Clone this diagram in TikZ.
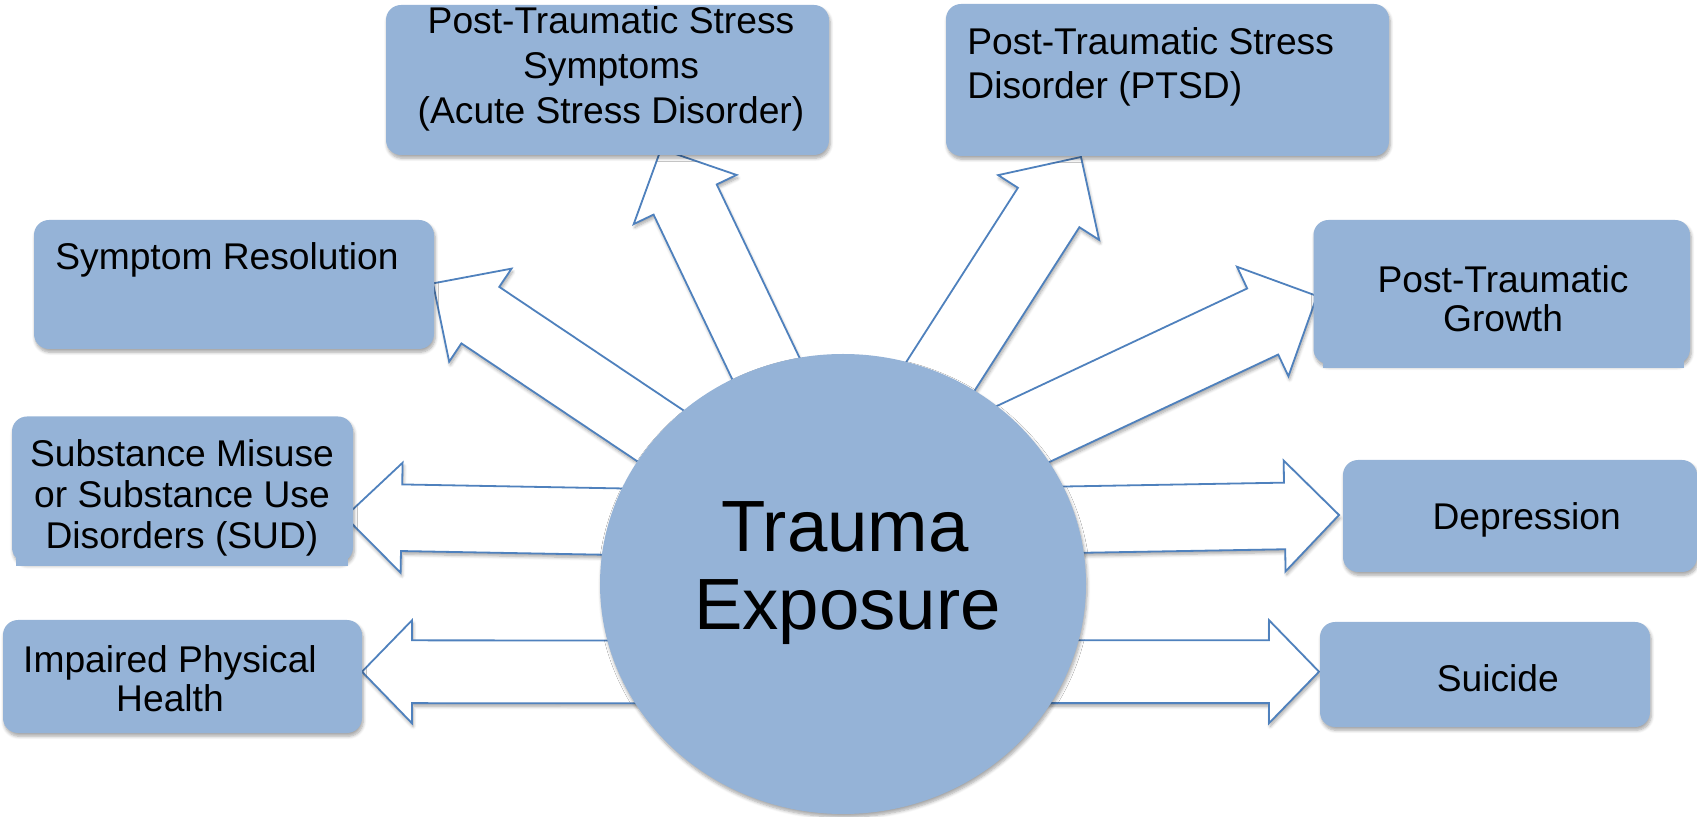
\documentclass[tikz,border=0pt]{standalone}
\usepackage{fontspec}
\setmainfont{Liberation Sans}
\usetikzlibrary{calc,shapes.geometric,shadows.blur}
\definecolor{boxblue}{HTML}{95B3D7}
\definecolor{arrowline}{HTML}{4F81BD}
\tikzset{
  softshadow/.style={blur shadow={shadow xshift=0.6pt, shadow yshift=-1.6pt, shadow blur radius=1.6pt, shadow blur steps=6, shadow opacity=35}},
  boxsty/.style={rectangle, rounded corners=7.5pt, fill=boxblue, draw=none, inner sep=0pt, softshadow},
  arrowsty/.style={draw=arrowline, fill=white, line width=0.9pt, line join=miter, softshadow},
  lbl/.style={inner sep=0pt, font=\fontsize{18.6}{22.5}\selectfont},
  biglbl/.style={inner sep=0pt, font=\fontsize{36.3}{39}\selectfont},
}
% #1 start, #2 tip, #3 half shaft width, #4 half head width, #5 head length
\newcommand{\blockarrow}[5]{%
  \coordinate (bH) at ($(#2)!#5!(#1)$);
  \draw[arrowsty] ($(#1)!#3!90:(#2)$) -- ($(bH)!#3!90:(#2)$) -- ($(bH)!#4!90:(#2)$) -- (#2)
     -- ($(bH)!#4!-90:(#2)$) -- ($(bH)!#3!-90:(#2)$) -- ($(#1)!#3!-90:(#2)$) -- cycle;
}
\begin{document}
\begin{tikzpicture}[x=0.5pt,y=-0.5pt]
\useasboundingbox (0,0) rectangle (1697,817);
% arrow end points
\coordinate (s1) at (833,509);   \coordinate (t1) at (661,149);
\coordinate (s2) at (865,494);   \coordinate (t2) at (1081,157);
\coordinate (s3) at (765,506);   \coordinate (t3) at (433,283.4);
\coordinate (s4) at (955,466);   \coordinate (t4) at (1317,296);
\coordinate (s5) at (745,524);   \coordinate (t5) at (345,516.7);
\coordinate (s6) at (762,672);   \coordinate (t6) at (362,671.7);
\coordinate (s7) at (939,522);   \coordinate (t7) at (1339,515);
\coordinate (s8) at (919,671.7); \coordinate (t8) at (1319,671.7);
% arrows
\blockarrow{s1}{t1}{17.5pt}{28.5pt}{28pt}
\blockarrow{s2}{t2}{18.25pt}{30pt}{30pt}
\blockarrow{s3}{t3}{17pt}{28pt}{28.5pt}
\blockarrow{s4}{t4}{18.25pt}{30.25pt}{30pt}
\blockarrow{s5}{t5}{16.65pt}{27.5pt}{28.3pt}
\blockarrow{s6}{t6}{15.7pt}{25.75pt}{25pt}
\blockarrow{s7}{t7}{16.65pt}{27.7pt}{27.2pt}
\blockarrow{s8}{t8}{15.7pt}{25.75pt}{25pt}
% boxes
\node[boxsty, minimum width=221.5pt, minimum height=75pt] (ptss) at (607.5,80) {};
\node[boxsty, minimum width=221.5pt, minimum height=76pt] (ptsd) at (1167.5,80) {};
\node[boxsty, minimum width=200pt, minimum height=64.5pt] (symres) at (234,284.5) {};
\node[boxsty, minimum width=188.25pt, minimum height=72pt] (ptg) at (1501.75,292) {};
\fill[boxblue] (1323,352) rectangle (1684,368);
\node[boxsty, minimum width=170.5pt, minimum height=73pt] (sud) at (182.5,489.5) {};
\fill[boxblue] (16,550) rectangle (348,566);
\node[boxsty, minimum width=179.5pt, minimum height=56.5pt] (phys) at (182.5,676.5) {};
\node[boxsty, minimum width=177pt, minimum height=56pt] (dep) at (1520,516) {};
\node[boxsty, minimum width=165pt, minimum height=52.5pt] (sui) at (1485,674.5) {};
% central ellipse
\node[ellipse, fill=boxblue, draw=none, inner sep=0pt, minimum width=243pt, minimum height=230pt,
  softshadow] (te) at (843,584) {};
% texts
\node[lbl, anchor=base] (ptssa) at (611,33.3) {Post-Traumatic Stress};
\node[lbl, anchor=base] (ptssb) at (611,78.3) {Symptoms};
\node[lbl, anchor=base] (ptssc) at (611,123.3) {(Acute Stress Disorder)};
\node[lbl, anchor=base west] (ptsda) at (967,54.3) {Post-Traumatic Stress};
\node[lbl, anchor=base west] (ptsdb) at (967,98.3) {Disorder (PTSD)};
\node[lbl, anchor=base west] (symresa) at (55,269.3) {Symptom Resolution};
\node[lbl, anchor=base] (ptga) at (1503,292.7) {Post-Traumatic};
\node[lbl, anchor=base] (ptgb) at (1503,331.7) {Growth};
\node[lbl, anchor=base] (suda) at (182,466.7) {Substance Misuse};
\node[lbl, anchor=base] (sudb) at (182,507.3) {or Substance Use};
\node[lbl, anchor=base] (sudc) at (182,548.3) {Disorders (SUD)};
\node[lbl, anchor=base] (physa) at (170,672.7) {Impaired Physical};
\node[lbl, anchor=base] (physb) at (170,711.7) {Health};
\node[lbl, anchor=base] (depa) at (1526.7,529.3) {Depression};
\node[lbl, anchor=base] (suia) at (1497.8,691) {Suicide};
\node[biglbl, anchor=base] (tea) at (845,551.7) {Trauma};
\node[biglbl, anchor=base] (teb) at (847.5,630) {Exposure};
\end{tikzpicture}
\end{document}
